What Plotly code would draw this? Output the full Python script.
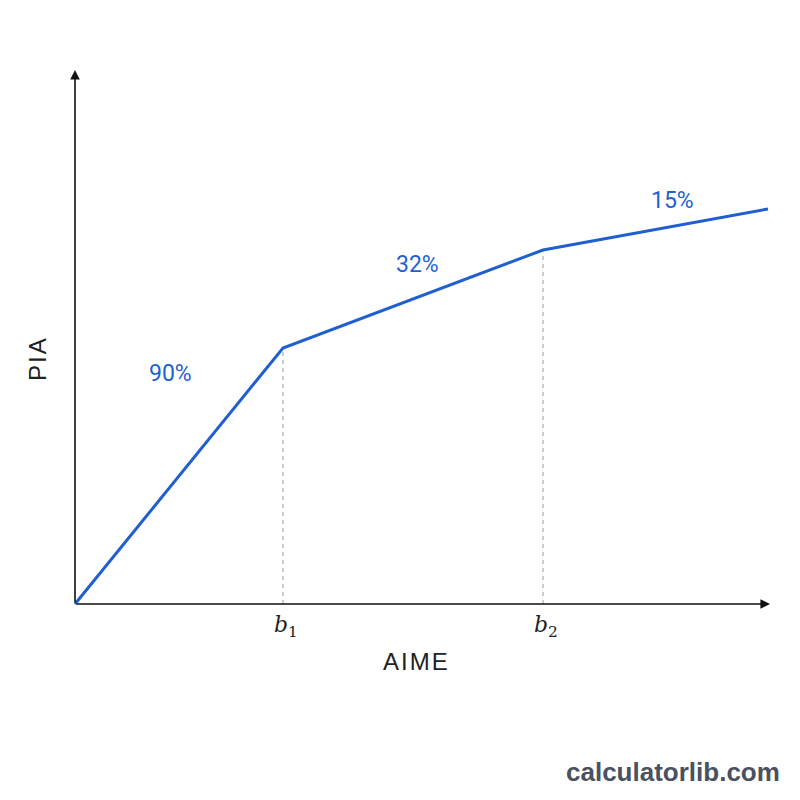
import plotly.graph_objects as go

# Data (AIME in arbitrary units, PIA in arbitrary units)
aime = [0, 208, 468, 693]
pia = [0, 256, 354, 395]
rates = ["90%", "32%", "15%"]
bend_labels = ["<i>b</i><sub>1</sub>", "<i>b</i><sub>2</sub>"]
rate_pos_x = [95, 342, 597]
rate_pos_y = [231, 340, 404]

BLUE = "#1f5fcf"
HS = "\u200a"

fig = go.Figure()

# dashed drop lines at bend points
for i in (1, 2):
    fig.add_trace(go.Scatter(x=[aime[i], aime[i]], y=[0, pia[i]], mode="lines",
                             line=dict(color="#9a9a9a", width=1, dash="4px,4px"),
                             hoverinfo="skip", showlegend=False))

fig.add_trace(go.Scatter(x=aime, y=pia, mode="lines",
                         line=dict(color=BLUE, width=3), showlegend=False))

annotations = []
# axes with arrowheads
annotations.append(dict(x=695, y=0, ax=0, ay=0, xref="x", yref="y", axref="x", ayref="y",
                        showarrow=True, arrowhead=2, arrowsize=1.2, arrowwidth=1.6,
                        arrowcolor="#111", text=""))
annotations.append(dict(x=0, y=534, ax=0, ay=0, xref="x", yref="y", axref="x", ayref="y",
                        showarrow=True, arrowhead=2, arrowsize=1.2, arrowwidth=1.6,
                        arrowcolor="#111", text=""))
for i, lab in enumerate(bend_labels):
    annotations.append(dict(x=aime[i + 1] + 3, y=-22, xref="x", yref="y", text=lab,
                            showarrow=False,
                            font=dict(family="DejaVu Serif", size=22, color="#222")))
for t, xx, yy in zip(rates, rate_pos_x, rate_pos_y):
    annotations.append(dict(x=xx, y=yy, xref="x", yref="y", text=t, showarrow=False,
                            font=dict(family="Roboto", size=23, color=BLUE)))
annotations.append(dict(x=340, y=-57, xref="x", yref="y", text=HS.join("AIME"), showarrow=False,
                        font=dict(family="Liberation Sans", size=24, color="#222")))
annotations.append(dict(x=-38, y=244, xref="x", yref="y", text=HS.join("PIA"), showarrow=False,
                        textangle=-90,
                        font=dict(family="Liberation Sans", size=24, color="#222")))
annotations.append(dict(x=782 / 800, y=1 - 772 / 800, xref="paper", yref="paper",
                        text="<b>calculatorlib.com</b>",
                        showarrow=False, xanchor="right", yanchor="middle",
                        font=dict(family="Liberation Sans", size=26, color="#4a5160")))

fig.update_layout(
    width=800, height=800,
    margin=dict(l=0, r=0, t=0, b=0),
    paper_bgcolor="white", plot_bgcolor="white",
    xaxis=dict(range=[-75, 725], visible=False),
    yaxis=dict(range=[-196, 604], visible=False),
    annotations=annotations,
)

fig.write_html("out.html")
